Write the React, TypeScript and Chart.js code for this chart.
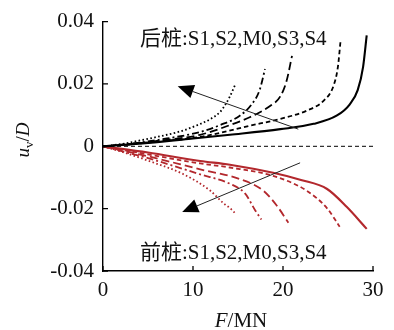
import React, { useEffect, useRef } from "react";
import { Chart, registerables } from "chart.js";

Chart.register(...registerables);

// ---- data (F in MN, u_v/D) ----
const backS1F = [0, 2, 4, 6, 8.6, 10.5, 11.9, 13, 13.6, 14.1, 14.7];
const backS1U = [0, 0.0007, 0.0018, 0.003, 0.0048, 0.0068, 0.0087, 0.011, 0.0134, 0.016, 0.0198];
const backS2F = [0, 3, 7.1, 10.8, 13, 15.2, 16.5, 17.4, 18.0];
const backS2U = [0, 0.0008, 0.0025, 0.0046, 0.0068, 0.0098, 0.0134, 0.018, 0.0248];
const backM0F = [0, 3, 6, 10.8, 14.1, 16.3, 18.6, 19.7, 20.4, 21.0];
const backM0U = [0, 0.0007, 0.0017, 0.0037, 0.0068, 0.0093, 0.013, 0.016, 0.021, 0.029];
const backS3F = [0, 3, 6, 10.8, 16.3, 19.7, 22.6, 24.5, 25.6, 26.1, 26.4];
const backS3U = [0, 0.0006, 0.0015, 0.003, 0.0066, 0.0088, 0.0114, 0.0146, 0.0193, 0.0255, 0.034];
const backS4F = [0, 5, 10, 14.1, 19.7, 23.4, 26.0, 27.4, 28.3, 28.9, 29.3];
const backS4U = [0, 0.0011, 0.0025, 0.0037, 0.0055, 0.0072, 0.0099, 0.0134, 0.018, 0.0255, 0.0356];

const frontS1F = [0, 2, 5.2, 8.9, 11.9, 13.4, 14.1, 14.7];
const frontS1U = [0, -0.0017, -0.0048, -0.0089, -0.0142, -0.0183, -0.0198, -0.0215];
const frontS2F = [0, 5, 10.8, 14.1, 15.8, 16.9, 17.6];
const frontS2U = [0, -0.0038, -0.009, -0.012, -0.0152, -0.0205, -0.0235];
const frontM0F = [0, 5, 10.8, 15.2, 17.8, 19.3, 20.6];
const frontM0U = [0, -0.0032, -0.0074, -0.0105, -0.0142, -0.019, -0.0245];
const frontS3F = [0, 5, 10.8, 14.1, 18.9, 22.6, 24.9, 26.3];
const frontS3U = [0, -0.0026, -0.0055, -0.0068, -0.0095, -0.0142, -0.0199, -0.0258];
const frontS4F = [0, 5, 10.8, 14.1, 18.9, 22, 24.9, 27.1, 29.3];
const frontS4U = [0, -0.002, -0.0047, -0.0059, -0.0085, -0.0108, -0.0137, -0.0195, -0.0265];

const zeroF = [0, 30];
const zeroU = [0, 0];

const xTicks = [0, 10, 20, 30];
const yTicks = [-0.04, -0.02, 0, 0.02, 0.04];
const yTickLabels = ["-0.04", "-0.02", "0", "0.02", "0.04"];

// arrows: [tailF, tailU, tipF, tipU]
const backArrow = [21.7, 0.0055, 8.3, 0.0193];
const frontArrow = [21.9, -0.0053, 8.8, -0.0211];

const backLabel = "后桩:S1,S2,M0,S3,S4";
const frontLabel = "前桩:S1,S2,M0,S3,S4";
const labelPos = [4.1, 0.0325, -0.0362]; // F, back baseline u, front baseline u

const FONT = "'Liberation Serif', 'Noto Sans CJK SC', serif";
const RED = "#b3282d";

const pts = (f: number[], u: number[]) => f.map((v, i) => ({ x: v, y: u[i] }));

const styles = [
  { dash: [1.6, 2.4], width: 1.8 },
  { dash: [7, 3, 2, 3], width: 1.8 },
  { dash: [8, 4], width: 1.8 },
  { dash: [4.5, 3], width: 1.8 },
  { dash: [], width: 2.1 },
];

const overlay = {
  id: "overlay",
  afterDraw(chart: any) {
    const ctx = chart.ctx;
    const xs = chart.scales.x;
    const ys = chart.scales.y;
    const area = chart.chartArea;
    ctx.save();
    // inside ticks
    ctx.strokeStyle = "#000";
    ctx.lineWidth = 1.3;
    ctx.beginPath();
    yTicks.forEach((t) => {
      const y = ys.getPixelForValue(t);
      ctx.moveTo(area.left, y);
      ctx.lineTo(area.left + 5, y);
    });
    xTicks.forEach((t) => {
      const x = xs.getPixelForValue(t);
      ctx.moveTo(x, area.bottom);
      ctx.lineTo(x, area.bottom - 5);
    });
    ctx.stroke();

    // arrows
    const drawArrow = (a: number[]) => {
      const x0 = xs.getPixelForValue(a[0]);
      const y0 = ys.getPixelForValue(a[1]);
      const x1 = xs.getPixelForValue(a[2]);
      const y1 = ys.getPixelForValue(a[3]);
      const dx = x1 - x0;
      const dy = y1 - y0;
      const len = Math.hypot(dx, dy);
      const ux = dx / len;
      const uy = dy / len;
      const L = 16;
      const W = 7;
      const bx = x1 - ux * L;
      const by = y1 - uy * L;
      ctx.strokeStyle = "#222";
      ctx.lineWidth = 1;
      ctx.beginPath();
      ctx.moveTo(x0, y0);
      ctx.lineTo(bx, by);
      ctx.stroke();
      ctx.fillStyle = "#000";
      ctx.beginPath();
      ctx.moveTo(x1, y1);
      ctx.lineTo(bx - uy * W, by + ux * W);
      ctx.lineTo(bx + uy * W, by - ux * W);
      ctx.closePath();
      ctx.fill();
    };
    drawArrow(backArrow);
    drawArrow(frontArrow);

    // annotations
    ctx.fillStyle = "#111";
    ctx.font = `21px ${FONT}`;
    ctx.textAlign = "left";
    ctx.textBaseline = "alphabetic";
    const lx = xs.getPixelForValue(labelPos[0]);
    ctx.fillText(backLabel, lx, ys.getPixelForValue(labelPos[1]));
    ctx.fillText(frontLabel, lx, ys.getPixelForValue(labelPos[2]));

    // x title: F/MN
    const drawRich = (parts: { t: string; f: string; dy?: number }[], cx: number, cy: number, rot: number) => {
      ctx.save();
      ctx.translate(cx, cy);
      ctx.rotate(rot);
      let total = 0;
      parts.forEach((p) => {
        ctx.font = p.f;
        total += ctx.measureText(p.t).width;
      });
      let x = -total / 2;
      parts.forEach((p) => {
        ctx.font = p.f;
        ctx.fillText(p.t, x, p.dy || 0);
        x += ctx.measureText(p.t).width;
      });
      ctx.restore();
    };
    ctx.textAlign = "left";
    drawRich(
      [
        { t: "F", f: `italic 21px ${FONT}` },
        { t: "/MN", f: `21px ${FONT}` },
      ],
      241,
      327,
      0
    );
    drawRich(
      [
        { t: "u", f: `italic 19px ${FONT}` },
        { t: "v", f: `13px ${FONT}`, dy: 4 },
        { t: "/", f: `19px ${FONT}` },
        { t: "D", f: `italic 19px ${FONT}` },
      ],
      29,
      140,
      -Math.PI / 2
    );
    ctx.restore();
  },
};

export default function App() {
  const ref = useRef<HTMLCanvasElement | null>(null);
  useEffect(() => {
    document.body.style.margin = "0";
    const canvas = ref.current;
    if (!canvas) return;
    const backs = [
      [backS1F, backS1U],
      [backS2F, backS2U],
      [backM0F, backM0U],
      [backS3F, backS3U],
      [backS4F, backS4U],
    ];
    const fronts = [
      [frontS1F, frontS1U],
      [frontS2F, frontS2U],
      [frontM0F, frontM0U],
      [frontS3F, frontS3U],
      [frontS4F, frontS4U],
    ];
    const mk = (d: number[][], i: number, color: string) => ({
      data: pts(d[0], d[1]),
      borderColor: color,
      borderWidth: styles[i].width,
      borderDash: styles[i].dash,
      pointRadius: 0,
      cubicInterpolationMode: "monotone" as const,
      fill: false,
    });
    const datasets: any[] = [
      {
        data: pts(zeroF, zeroU),
        borderColor: "#000",
        borderWidth: 1,
        borderDash: [4, 3],
        pointRadius: 0,
      },
      ...backs.map((d, i) => mk(d, i, "#000")),
      ...fronts.map((d, i) => mk(d, i, RED)),
    ];
    const chart = new Chart(canvas, {
      type: "line",
      data: { datasets },
      options: {
        animation: false,
        responsive: true,
        maintainAspectRatio: false,
        layout: { padding: { left: 0, top: 16, right: 21, bottom: 0 } },
        plugins: { legend: { display: false }, tooltip: { enabled: false } },
        scales: {
          x: {
            type: "linear",
            min: 0,
            max: 30,
            afterFit: (s: any) => {
              s.height = 59;
            },
            afterBuildTicks: (s: any) => {
              s.ticks = xTicks.map((v) => ({ value: v }));
            },
            ticks: {
              color: "#111",
              padding: 7,
              maxRotation: 0,
              font: { family: FONT, size: 21 },
              callback: (v: any) => String(v),
            },
            grid: { display: false, drawTicks: false },
            border: { display: true, color: "#000", width: 1.4 },
          },
          y: {
            type: "linear",
            min: -0.04,
            max: 0.04,
            afterFit: (s: any) => {
              s.width = 103;
            },
            afterBuildTicks: (s: any) => {
              s.ticks = yTicks.map((v) => ({ value: v }));
            },
            ticks: {
              color: "#111",
              padding: 9,
              font: { family: FONT, size: 21 },
              callback: (v: any) => {
                const i = yTicks.findIndex((t) => Math.abs(t - Number(v)) < 1e-9);
                return i >= 0 ? yTickLabels[i] : "";
              },
            },
            grid: { display: false, drawTicks: false },
            border: { display: true, color: "#000", width: 1.4 },
          },
        },
      },
      plugins: [overlay],
    });
    return () => chart.destroy();
  }, []);
  return (
    <div style={{ position: "absolute", left: 0, top: 0, width: 394, height: 330, background: "#fff" }}>
      <canvas ref={ref} />
    </div>
  );
}
